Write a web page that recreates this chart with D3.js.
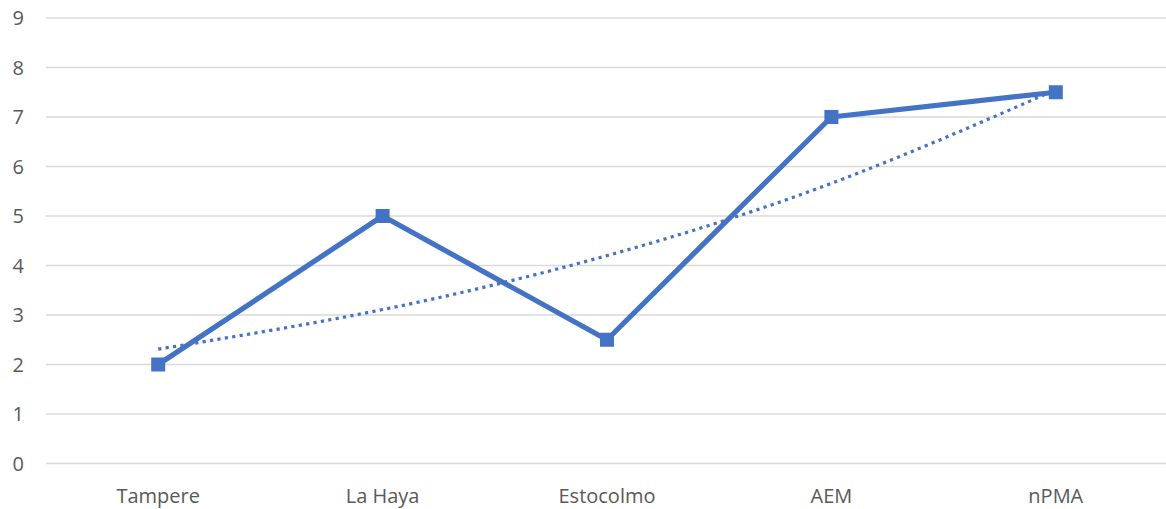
<!DOCTYPE html>
<html><head><meta charset="utf-8">
<script src="https://cdn.jsdelivr.net/npm/d3@7"></script>
<style>html,body{margin:0;padding:0;background:#fff;overflow:hidden}</style>
</head><body><svg id="c" width="1166" height="509"></svg>
<script>
const categories = ["Tampere", "La Haya", "Estocolmo", "AEM", "nPMA"];
const values = [2, 5, 2.5, 7, 7.5];
const trendValues = [2.31, 3.11, 4.20, 5.66, 7.55];
const yTicks = [0,1,2,3,4,5,6,7,8,9];

(function(){
const svg = d3.select("#c");
const mLeft = 46, mRight = 1168, mTop = 18, mBottom = 463.5;
const x = d3.scaleBand().domain(categories).range([mLeft, mRight]);
const y = d3.scaleLinear().domain([0, 9]).range([mBottom, mTop]);
const cx = d => x(d) + x.bandwidth() / 2;
const font = "'Open Sans', 'Liberation Sans', sans-serif";

svg.append("g").selectAll("line").data(yTicks).join("line")
  .attr("x1", mLeft).attr("x2", mRight)
  .attr("y1", d => y(d)).attr("y2", d => y(d))
  .attr("stroke", "#d9d9d9").attr("stroke-width", 1.3);

svg.append("g").selectAll("text").data(yTicks).join("text")
  .attr("x", 24).attr("y", d => y(d)).attr("dy", "0.36em")
  .attr("text-anchor", "end").attr("fill", "#595959")
  .style("font-family", font).style("font-size", "20px")
  .text(d => d);

svg.append("g").selectAll("text").data(categories).join("text")
  .attr("x", d => cx(d)).attr("y", 503)
  .attr("text-anchor", "middle").attr("fill", "#595959")
  .style("font-family", font).style("font-size", "20px")
  .text(d => d);

const line = d3.line().x((d, i) => cx(categories[i])).y(d => y(d));
svg.append("path").datum(values).attr("d", line)
  .attr("fill", "none").attr("stroke", "#4472C4").attr("stroke-width", 5.2)
  .attr("stroke-linejoin", "round");

svg.append("g").selectAll("rect").data(values).join("rect")
  .attr("x", (d, i) => cx(categories[i]) - 7).attr("y", d => y(d) - 7)
  .attr("width", 14).attr("height", 14).attr("fill", "#4472C4");

const trend = d3.line().x((d, i) => cx(categories[i])).y(d => y(d)).curve(d3.curveNatural);
svg.append("path").datum(trendValues).attr("d", trend)
  .attr("fill", "none").attr("stroke", "#4472C4").attr("stroke-width", 3.2)
  .attr("stroke-dasharray", "3.2 4.3");
})();
</script></body></html>
